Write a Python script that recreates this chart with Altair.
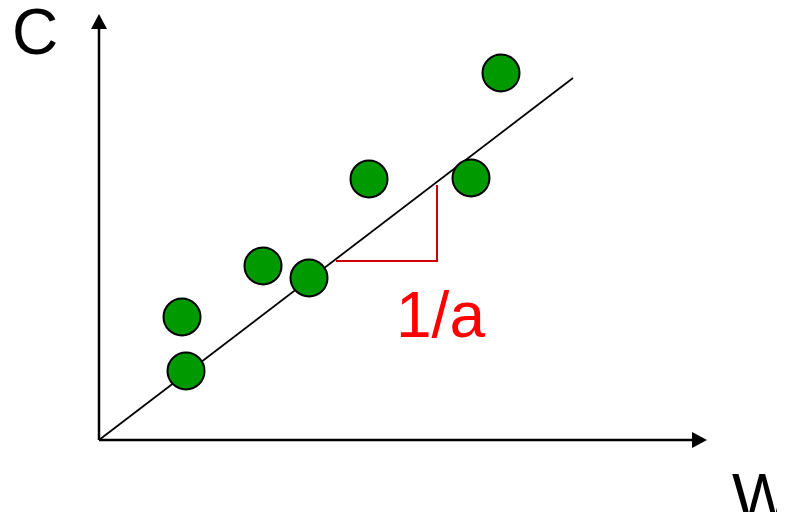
import altair as alt
import pandas as pd

# scatter points (data units)
pt_x = [1.66, 1.74, 3.28, 4.20, 5.40, 7.44, 8.04]
pt_y = [2.46, 1.38, 3.48, 3.24, 5.22, 5.24, 7.34]

# fitted line
fit_x = [0.0, 9.48]
fit_y = [0.0, 7.24]

# slope triangle (1/a)
tri_x = [4.74, 6.76, 6.76]
tri_y = [3.58, 3.58, 5.10]

# axes extent
x_max = 12.16
y_max = 8.52

# labels
lab_text = ["C", "W"]
lab_x = [-1.74, 12.66]
lab_y = [7.72, -1.58]
slope_text = ["1/a"]
slope_x = [5.94]
slope_y = [2.06]

xs = alt.Scale(domain=[0, x_max], nice=False, zero=False)
ys = alt.Scale(domain=[0, y_max], nice=False, zero=False)
X = lambda f: alt.X(f, type="quantitative", scale=xs, axis=None)
Y = lambda f: alt.Y(f, type="quantitative", scale=ys, axis=None)

axes_df = pd.DataFrame({"x": [0, 0], "y": [0, 0], "x2": [0, x_max - 0.2], "y2": [y_max - 0.2, 0]})
axes = alt.Chart(axes_df).mark_rule(color="black", strokeWidth=2.5).encode(
    x=X("x"), y=Y("y"), x2="x2", y2="y2")

up_df = pd.DataFrame({"x": [0], "y": [y_max]})
up = alt.Chart(up_df).mark_point(shape="M0,0 L1,1.875 L-1,1.875 Z", size=256, filled=True,
                                  color="black", opacity=1, strokeWidth=0).encode(x=X("x"), y=Y("y"))
right_df = pd.DataFrame({"x": [x_max], "y": [0]})
right = alt.Chart(right_df).mark_point(shape="M0,0 L-1.875,-1 L-1.875,1 Z", size=256, filled=True,
                                        color="black", opacity=1, strokeWidth=0).encode(x=X("x"), y=Y("y"))

fit_df = pd.DataFrame({"x": fit_x, "y": fit_y})
fit = alt.Chart(fit_df).mark_line(color="black", strokeWidth=1.8).encode(x=X("x"), y=Y("y"))

tri_df = pd.DataFrame({"x": tri_x, "y": tri_y, "o": [0, 1, 2]})
tri = alt.Chart(tri_df).mark_line(color="#cc0000", strokeWidth=2).encode(
    x=X("x"), y=Y("y"), order="o:Q")

pts_df = pd.DataFrame({"x": pt_x, "y": pt_y})
pts = alt.Chart(pts_df).mark_point(shape="circle", size=1369, filled=True, fill="#009900",
                                   stroke="black", strokeWidth=2, opacity=1, fillOpacity=1).encode(
    x=X("x"), y=Y("y"))

lab_df = pd.DataFrame({"t": lab_text, "x": lab_x, "y": lab_y})
labs = alt.Chart(lab_df).mark_text(align="left", baseline="alphabetic", fontSize=64,
                                   font="Liberation Sans", color="black").encode(
    x=X("x"), y=Y("y"), text="t:N")

sl_df = pd.DataFrame({"t": slope_text, "x": slope_x, "y": slope_y})
sl = alt.Chart(sl_df).mark_text(align="left", baseline="alphabetic", fontSize=64,
                                font="Liberation Sans", color="#ff0000").encode(
    x=X("x"), y=Y("y"), text="t:N")

chart = alt.layer(axes, fit, tri, up, right, pts, labs, sl).properties(
    width=608, height=426,
    padding={"left": 91, "top": 6, "right": 70, "bottom": 72},
    autosize=alt.AutoSizeParams(type="none"),
).configure_view(stroke=None)

chart.save("out.html", embed_options={"renderer": "svg", "actions": False})
